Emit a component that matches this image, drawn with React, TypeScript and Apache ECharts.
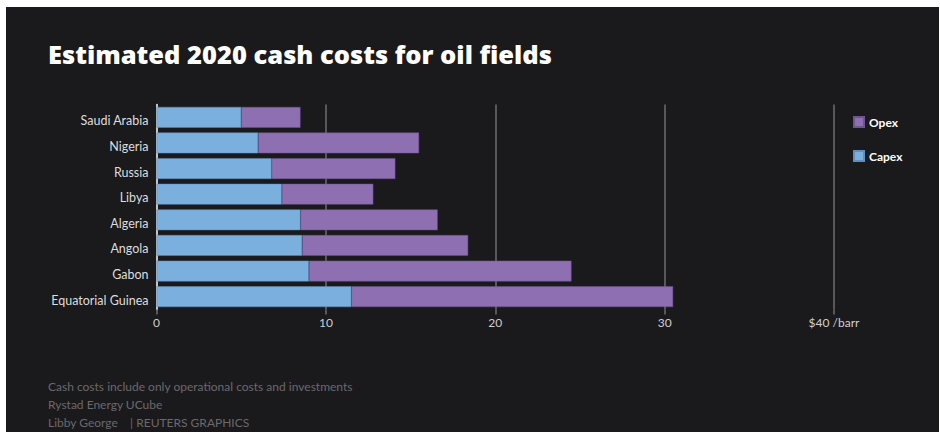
import React, { useEffect, useRef } from "react";
import * as echarts from "echarts";

const countries = ["Saudi Arabia", "Nigeria", "Russia", "Libya", "Algeria", "Angola", "Gabon", "Equatorial Guinea"];
const capex = [5.0, 6.0, 6.8, 7.4, 8.5, 8.6, 9.0, 11.5];
const opex = [3.5, 9.5, 7.3, 5.4, 8.1, 9.8, 15.5, 19.0];
const xTicks = [0, 10, 20, 30, 40];
const title = "Estimated 2020 cash costs for oil fields";
const footer = [
  "Cash costs include only operational costs and investments",
  "Rystad Energy UCube",
  "Libby George    | REUTERS GRAPHICS",
];

const BLUE = "#7aafde";
const PURPLE = "#8e6fb1";
const FONT = "Lato";

export default function App() {
  const ref = useRef<HTMLDivElement>(null);
  useEffect(() => {
    if (!ref.current) return;
    const chart = echarts.init(ref.current, undefined, { renderer: "svg" });
    chart.setOption({
      animation: false,
      backgroundColor: "#ffffff",
      textStyle: { fontFamily: FONT },
      graphic: [
        { type: "rect", z: -10, shape: { x: 6, y: 7, width: 933, height: 425 }, style: { fill: "#1a191c" } },
        {
          type: "text", x: 48, y: 54,
          style: { text: title, fill: "#ffffff", font: `800 25.5px "Open Sans"`, verticalAlign: "middle" },
        },
        ...footer.map((t, i) => ({
          type: "text", left: 48, top: 380 + i * 18,
          style: { text: t, fill: "#6a696c", font: `12px ${FONT}` },
        })),
      ],
      legend: {
        data: ["Opex", "Capex"],
        orient: "vertical",
        left: 853,
        top: 116,
        padding: 0,
        itemWidth: 10,
        itemHeight: 10,
        itemGap: 22,
        icon: "rect",
        textStyle: { color: "#ffffff", fontWeight: "bold", fontSize: 12, fontFamily: FONT },
      },
      grid: { left: 156.5, right: 106, top: 104.5, bottom: 123.5, containLabel: false },
      xAxis: {
        type: "value",
        min: xTicks[0],
        max: xTicks[xTicks.length - 1],
        interval: 10,
        axisLine: { show: false },
        axisTick: { show: true, length: 5, lineStyle: { color: "#6e6d70", width: 1.5 } },
        splitLine: { show: true, lineStyle: { color: "#6e6d70", width: 1.5 } },
        axisLabel: {
          color: "#cfcfd1",
          fontSize: 12,
          margin: 7,
          formatter: (v: number) => (v === 40 ? "$40 /barr" : String(v)),
        },
      },
      yAxis: {
        type: "category",
        data: countries,
        inverse: true,
        axisLine: { show: true, lineStyle: { color: "#e8e8e8", width: 1.5 } },
        axisTick: { show: false },
        axisLabel: {
          margin: 8,
          formatter: (v: string) => `{a|${v}}`,
          rich: {
            a: { color: "#dddddd", fontSize: 12.5, fontFamily: FONT, lineHeight: 20, verticalAlign: "bottom" },
          },
        },
      },
      series: [
        {
          name: "Capex",
          type: "bar",
          stack: "total",
          data: capex,
          barCategoryGap: "19%",
          itemStyle: { color: BLUE, borderColor: "#5f8fbf", borderWidth: 0.5 },
        },
        {
          name: "Opex",
          type: "bar",
          stack: "total",
          data: opex,
          itemStyle: { color: PURPLE, borderColor: "#6f5490", borderWidth: 0.5 },
        },
      ],
    });
    return () => chart.dispose();
  }, []);
  return (
    <div
      ref={ref}
      style={{ position: "fixed", left: 0, top: 0, width: 940, height: 433 }}
    />
  );
}
